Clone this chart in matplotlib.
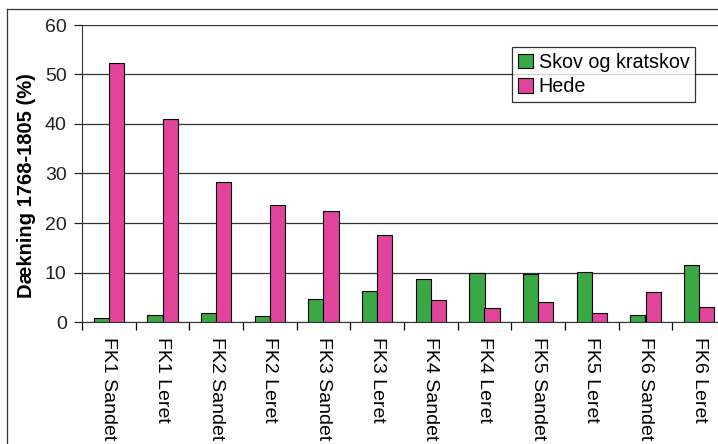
import matplotlib
matplotlib.use("Agg")
import matplotlib.pyplot as plt
import numpy as np

plt.rcParams['font.family'] = ['Liberation Sans', 'DejaVu Sans']

categories = ["FK1 Sandet", "FK1 Leret", "FK2 Sandet", "FK2 Leret", "FK3 Sandet", "FK3 Leret",
              "FK4 Sandet", "FK4 Leret", "FK5 Sandet", "FK5 Leret", "FK6 Sandet", "FK6 Leret"]
skov = [0.8, 1.4, 1.8, 1.2, 4.6, 6.3, 8.6, 9.9, 9.6, 10.2, 1.5, 11.5]
hede = [52.4, 41.0, 28.3, 23.7, 22.5, 17.6, 4.4, 2.8, 4.0, 1.8, 6.1, 3.1]

fig = plt.figure(figsize=(7.18, 4.44), dpi=100)
ax = fig.add_axes([82 / 718, 1 - 322 / 444, 644 / 718, 297 / 444])

x = np.arange(len(categories))
w = 0.28
ax.bar(x - w / 2, skov, w, color="#3aa845", edgecolor="black", linewidth=0.8,
       label="Skov og kratskov", zorder=3)
ax.bar(x + w / 2, hede, w, color="#e0449c", edgecolor="black", linewidth=0.8,
       label="Hede", zorder=3)

ax.set_xlim(-0.5, len(categories) - 0.5)
ax.set_ylim(0, 60)
ax.set_yticks(range(0, 61, 10))
ax.yaxis.grid(True, color="#333333", linewidth=0.9)
ax.set_axisbelow(True)
ax.tick_params(axis="y", labelsize=14, length=6, width=0.9, pad=5, colors="#222222")

ax.set_xticks(x)
ax.set_xticklabels(categories, rotation=270, fontsize=14, va="top", ha="center")
ax.set_xticks(np.arange(-0.5, len(categories), 1), minor=True)
ax.tick_params(axis="x", which="major", length=0, pad=11)
ax.tick_params(axis="x", which="minor", length=6, width=0.9)

for s in ["top", "right"]:
    ax.spines[s].set_visible(False)
ax.spines["left"].set_color("#333333")
ax.spines["bottom"].set_color("#333333")

ax.set_ylabel("Dækning 1768-1805 (%)", fontsize=14.5, fontweight="bold")
ax.yaxis.set_label_coords(-0.072, 0.46)

leg = ax.legend(loc="upper left", bbox_to_anchor=((512 - 82) / 644, 1 - (47 - 25) / 297),
                fontsize=14.2, frameon=True, fancybox=False, edgecolor="black",
                handlelength=0.75, handleheight=0.75, handletextpad=0.3, borderpad=0.3,
                labelspacing=0.28, borderaxespad=0)
leg.get_frame().set_linewidth(0.9)

# outer chart border
fig.add_artist(plt.Line2D([7 / 718, 1], [1 - 9 / 444, 1 - 9 / 444], color="#333333", linewidth=0.9))
fig.add_artist(plt.Line2D([7 / 718, 7 / 718], [0, 1 - 9 / 444], color="#333333", linewidth=0.9))

fig.savefig("out.png", dpi=100)
